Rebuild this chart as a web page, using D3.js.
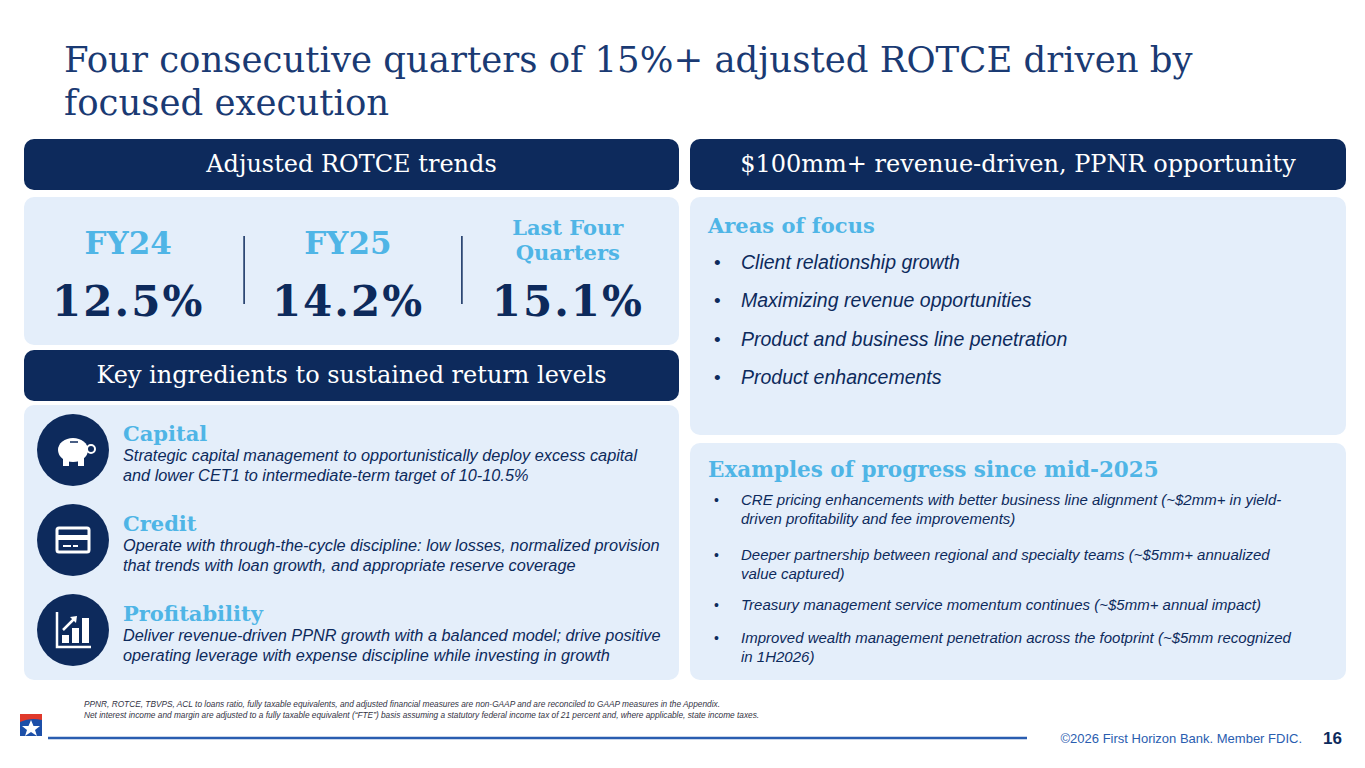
<!DOCTYPE html>
<html><head><meta charset="utf-8">
<script src="https://cdn.jsdelivr.net/npm/d3@7"></script>
<style>body{margin:0;background:#fff}</style>
</head><body><div id="chart"></div>
<script>
const periods = ["FY24", "FY25", "Last Four|Quarters"];
const rotce = [12.5, 14.2, 15.1];
const ingredients = ["Capital", "Credit", "Profitability"];
const ingredientText = [
  ["Strategic capital management to opportunistically deploy excess capital", "and lower CET1 to intermediate-term target of 10-10.5%"],
  ["Operate with through-the-cycle discipline: low losses, normalized provision", "that trends with loan growth, and appropriate reserve coverage"],
  ["Deliver revenue-driven PPNR growth with a balanced model; drive positive", "operating leverage with expense discipline while investing in growth"]
];
const focusAreas = ["Client relationship growth", "Maximizing revenue opportunities", "Product and business line penetration", "Product enhancements"];
const progress = [
  ["CRE pricing enhancements with better business line alignment (~$2mm+ in yield-", "driven profitability and fee improvements)"],
  ["Deeper partnership between regional and specialty teams (~$5mm+ annualized", "value captured)"],
  ["Treasury management service momentum continues (~$5mm+ annual impact)"],
  ["Improved wealth management penetration across the footprint (~$5mm recognized", "in 1H2026)"]
];
const footnotes = [
  "PPNR, ROTCE, TBVPS, ACL to loans ratio, fully taxable equivalents, and adjusted financial measures are non-GAAP and are reconciled to GAAP measures in the Appendix.",
  "Net interest income and margin are adjusted to a fully taxable equivalent (\u201cFTE\u201d) basis assuming a statutory federal income tax of 21 percent and, where applicable, state income taxes."
];

const navy = "#0d2a5c", light = "#e4eefa", accent = "#4fb5e6", slab = "'DejaVu Serif', serif", sans = "'Liberation Sans', Arial, sans-serif";
const svg = d3.select("#chart").append("svg").attr("width", 1365).attr("height", 768);

// title
svg.append("text").attr("fill", "#1a3a73").attr("font-family", slab).attr("font-size", 35.5)
  .selectAll("tspan").data(["Four consecutive quarters of 15%+ adjusted ROTCE driven by", "focused execution"]).join("tspan")
  .attr("x", 64).attr("y", (d, i) => 72 + i * 43).text(d => d);

function panel(x, y, w, h, fill) { svg.append("rect").attr("x", x).attr("y", y).attr("width", w).attr("height", h).attr("rx", 10).attr("fill", fill); }
function header(x, y, w, t) {
  panel(x, y, w, 51, navy);
  svg.append("text").attr("x", x + w / 2).attr("y", y + 33).attr("text-anchor", "middle").attr("fill", "#fff")
    .attr("font-family", slab).attr("font-size", 24).text(t);
}
panel(24, 197, 655, 148, light);
panel(24, 405, 655, 275, light);
panel(690, 197, 656, 238, light);
panel(690, 443, 656, 237, light);
header(24, 139, 655, "Adjusted ROTCE trends");
header(690, 139, 656, "$100mm+ revenue-driven, PPNR opportunity");
header(24, 350, 655, "Key ingredients to sustained return levels");

// ROTCE figures
const x = d3.scaleBand().domain(periods).range([24, 680]).paddingInner(0).paddingOuter(0.02);
const g = svg.append("g");
periods.forEach((p, i) => {
  const cx = x(p) + x.bandwidth() / 2 - 8 + i * 4;
  const lines = p.split("|");
  const t = g.append("text").attr("text-anchor", "middle").attr("fill", accent).attr("font-family", slab).attr("font-weight", "bold");
  if (lines.length === 1) t.attr("x", cx).attr("y", 254).attr("font-size", 31).text(p);
  else lines.forEach((l, j) => t.append("tspan").attr("x", cx).attr("y", 235 + j * 25).attr("font-size", 21).text(l));
  g.append("text").attr("x", cx).attr("y", 316).attr("text-anchor", "middle").attr("fill", navy).attr("letter-spacing", 2)
    .attr("font-family", slab).attr("font-weight", "bold").attr("font-size", 42).text(d3.format(".1f")(rotce[i]) + "%");
  if (i > 0) g.append("line").attr("x1", x(p) - 2 + i * 2).attr("x2", x(p) - 2 + i * 2).attr("y1", 236).attr("y2", 304).attr("stroke", navy).attr("stroke-width", 1.5);
});

// ingredients
const iy = d3.scaleBand().domain(ingredients).range([410, 680]);
ingredients.forEach((k, i) => {
  const y0 = iy(k);
  svg.append("circle").attr("cx", 73).attr("cy", y0 + 40).attr("r", 36).attr("fill", navy);
  const ic = svg.append("g").attr("transform", `translate(73,${y0 + 40})`).attr("fill", "#fff").attr("stroke", "#fff");
  if (i === 0) {
    ic.append("ellipse").attr("rx", 15).attr("ry", 12).attr("stroke", "none");
    ic.append("rect").attr("x", -10).attr("y", 6).attr("width", 6).attr("height", 10).attr("stroke", "none");
    ic.append("rect").attr("x", 5).attr("y", 6).attr("width", 6).attr("height", 10).attr("stroke", "none");
    ic.append("circle").attr("cx", 18).attr("cy", -1).attr("r", 4).attr("fill", "none").attr("stroke-width", 2);
    ic.append("line").attr("x1", -3).attr("x2", 5).attr("y1", -8).attr("y2", -8).attr("stroke", navy).attr("stroke-width", 1.5);
  } else if (i === 1) {
    ic.append("rect").attr("x", -16).attr("y", -12).attr("width", 32).attr("height", 24).attr("rx", 2).attr("fill", "none").attr("stroke-width", 3);
    ic.append("rect").attr("x", -16).attr("y", -5).attr("width", 32).attr("height", 5).attr("stroke", "none");
    ic.append("rect").attr("x", -10).attr("y", 5).attr("width", 8).attr("height", 2).attr("stroke", "none");
    ic.append("rect").attr("x", 0).attr("y", 5).attr("width", 5).attr("height", 2).attr("stroke", "none");
  } else {
    ic.append("path").attr("d", "M-16,-18V17H18").attr("fill", "none").attr("stroke-width", 2.5);
    [[-11, 5, 8], [-1, -2, 15], [9, -12, 25]].forEach(b => ic.append("rect").attr("x", b[0]).attr("y", b[1]).attr("width", 7).attr("height", b[2]).attr("stroke", "none"));
    ic.append("path").attr("d", "M-10,0L2,-12").attr("stroke-width", 2.5).attr("stroke", "#fff");
    ic.append("path").attr("d", "M-3,-13L4,-14L3,-7Z").attr("stroke", "none");
  }
  svg.append("text").attr("x", 123).attr("y", y0 + 31).attr("fill", accent).attr("font-family", slab).attr("font-weight", "bold").attr("font-size", 21).text(k);
  svg.append("text").attr("font-family", sans).attr("font-style", "italic").attr("font-size", 16.3).attr("fill", navy)
    .selectAll("tspan").data(ingredientText[i]).join("tspan").attr("x", 123).attr("y", (d, j) => y0 + 51 + j * 20).text(d => d);
});

// focus areas
svg.append("text").attr("x", 708).attr("y", 233).attr("fill", accent).attr("font-family", slab).attr("font-weight", "bold").attr("font-size", 21).text("Areas of focus");
const fy = d3.scalePoint().domain(focusAreas).range([263, 378]);
focusAreas.forEach(f => {
  svg.append("text").attr("x", 714).attr("y", fy(f) + 6).attr("fill", navy).attr("font-family", sans).attr("font-size", 19).text("\u2022");
  svg.append("text").attr("x", 741).attr("y", fy(f) + 6).attr("fill", navy).attr("font-family", sans).attr("font-style", "italic").attr("font-size", 19.5).text(f);
});

// progress
svg.append("text").attr("x", 708).attr("y", 477).attr("fill", accent).attr("font-family", slab).attr("font-weight", "bold").attr("font-size", 21.5).text("Examples of progress since mid-2025");
const py = [505, 560, 610, 643];
progress.forEach((p, i) => {
  svg.append("text").attr("x", 714).attr("y", py[i]).attr("fill", navy).attr("font-family", sans).attr("font-size", 14).text("\u2022");
  svg.append("text").attr("font-family", sans).attr("font-style", "italic").attr("font-size", 15).attr("fill", navy)
    .selectAll("tspan").data(p).join("tspan").attr("x", 741).attr("y", (d, j) => py[i] + j * 19).text(d => d);
});

// footer
svg.append("text").attr("font-family", sans).attr("font-style", "italic").attr("font-size", 8.3).attr("fill", "#334")
  .selectAll("tspan").data(footnotes).join("tspan").attr("x", 84).attr("y", (d, i) => 707 + i * 11).text(d => d);
const logo = svg.append("g").attr("transform", "translate(20,714)");
logo.append("rect").attr("width", 22).attr("height", 22).attr("fill", "#1c4fa8");
logo.append("path").attr("d", "M0,0H22V6Q10,3 0,8Z").attr("fill", "#e0392b");
logo.append("path").attr("d", "M11,6L13.5,12L20,12L15,16L17,22L11,18L5,22L7,16L2,12L8.5,12Z").attr("fill", "#fff");
svg.append("line").attr("x1", 48).attr("x2", 1027).attr("y1", 738).attr("y2", 738).attr("stroke", "#2a5db0").attr("stroke-width", 2.5);
svg.append("text").attr("x", 1302).attr("y", 743).attr("text-anchor", "end").attr("fill", "#2a5db0").attr("font-family", sans).attr("font-size", 13).text("\u00a92026 First Horizon Bank. Member FDIC.");
svg.append("text").attr("x", 1342).attr("y", 744).attr("text-anchor", "end").attr("fill", navy).attr("font-family", sans).attr("font-weight", "bold").attr("font-size", 17).text("16");
</script></body></html>
